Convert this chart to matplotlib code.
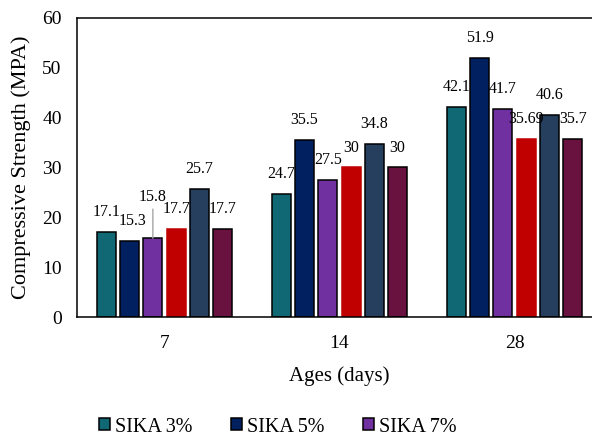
import numpy as np
import matplotlib.pyplot as plt

plt.rcParams['font.family'] = ['Liberation Serif', 'DejaVu Serif']

# Ages and compressive strength for each mix
ages = ['7', '14', '28']
sika_3 = [17.1, 24.7, 42.1]
sika_5 = [15.3, 35.5, 51.9]
sika_7 = [15.8, 27.5, 41.7]
mix_4 = [17.7, 30, 35.69]
mix_5 = [25.7, 34.8, 40.6]
mix_6 = [17.7, 30, 35.7]

series = [sika_3, sika_5, sika_7, mix_4, mix_5, mix_6]
names = ['SIKA 3%', 'SIKA 5%', 'SIKA 7%', None, None, None]
colors = ['#116875', '#002060', '#7030A0', '#C00000', '#263F5F', '#69123F']
edges = ['black', 'black', 'black', '#C00000', 'black', 'black']

fig = plt.figure(figsize=(5.92, 4.36), dpi=100)
ax = fig.add_axes([77/592, 1-317/436, 525/592, 299/436])

x = np.arange(len(ages))
step = 0.133
width = 0.108
handles = []
for i, vals in enumerate(series):
    off = (i - 2.5) * step
    b = ax.bar(x + off, vals, width, color=colors[i], edgecolor=edges[i],
               linewidth=1.1, zorder=2)
    if names[i]:
        handles.append((b, names[i]))
    for j, v in enumerate(vals):
        dy = 14.4
        dx = 0
        if i == 2 and j == 0:
            dy = 29.5   # 15.8 label lifted, with leader line
        if i == 1 and j == 0:
            dx = 2.2
        ax.annotate(f'{v:g}', (x[j] + off, v), xytext=(dx, dy),
                    textcoords='offset points', ha='center', va='center',
                    fontsize=11.5)
        if i == 2 and j == 0:
            ax.annotate('', (x[j] + off, v), xytext=(0, 21),
                        textcoords='offset points',
                        arrowprops=dict(arrowstyle='-', color='#A6A6A6', lw=1,
                                        shrinkA=0, shrinkB=0))

ax.set_xlim(-0.5, 2.5)
ax.set_ylim(0, 60)
ax.set_yticks(range(0, 61, 10))
ax.set_xticks(x)
ax.set_xticklabels(ages)
ax.tick_params(length=0, labelsize=14, pad=13)
ax.tick_params(axis='y', pad=11)
for s in ax.spines.values():
    s.set_linewidth(1.1)

ax.set_ylabel('Compressive Strength (MPA)', fontsize=16, labelpad=8)
ax.set_xlabel('Ages (days)', fontsize=15, labelpad=10)

fig.legend([h for h, _ in handles], [n for _, n in handles],
           loc='center', bbox_to_anchor=(278/592, 1-427/436), ncol=3,
           frameon=False, fontsize=14.5, handlelength=0.55, handleheight=0.55,
           handletextpad=0.25, columnspacing=1.9)

fig.savefig('out.png', dpi=100)
